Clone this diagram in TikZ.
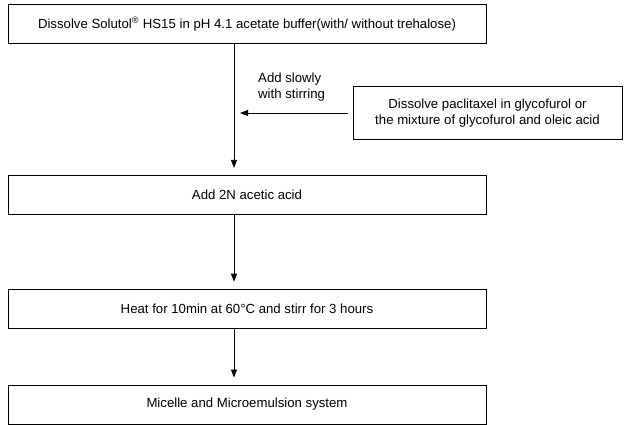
\documentclass[tikz,border=0pt]{standalone}
\usepackage{fontspec}
\setmainfont{Liberation Sans}
\usetikzlibrary{arrows.meta,positioning,calc}

\begin{document}
\begin{tikzpicture}[
  x=1pt,y=1pt,
  stepbox/.style={
    draw,
    line width=0.8pt,
    minimum width=478pt,
    minimum height=39pt,
    align=center,
    inner sep=0pt,
    font=\fontsize{13.2}{15}\selectfont
  },
  sidebox/.style={
    draw,
    line width=0.8pt,
    minimum width=269pt,
    minimum height=53pt,
    align=center,
    inner sep=0pt,
    font=\fontsize{13.2}{15.5}\selectfont
  },
  arrow/.style={-{Triangle[length=8pt,width=6pt]},line width=0.8pt}
]
  \useasboundingbox (0,0) rectangle (624,-425);
  \node[stepbox] (solutol) at (247,-24) {Dissolve Solutol\textsuperscript{\textregistered} HS15 in pH 4.1 acetate buffer(with/ without trehalose)};
  \node[stepbox,below=131pt of solutol] (acid) {Add 2N acetic acid};
  \node[stepbox,below=74pt of acid] (heat) {Heat for 10min at 60\textdegree C and stirr for 3 hours};
  \node[stepbox,below=56pt of heat] (micelle) {Micelle and Microemulsion system};
  \node[sidebox] (paclitaxel) at (487.5,-113) {Dissolve paclitaxel in glycofurol or\\the mixture of glycofurol and oleic acid};
  \node[anchor=west,align=left,inner sep=0pt,font=\fontsize{13.2}{16.5}\selectfont] (slowly) at (258,-87) {Add slowly\\with stirring};
  \coordinate (trunk) at (234,0);
  \draw[arrow,shorten >=7pt] (solutol.south -| trunk) -- (acid.north -| trunk);
  \draw[arrow,shorten >=7pt] (acid.south -| trunk) -- (heat.north -| trunk);
  \draw[arrow,shorten >=7pt] (heat.south -| trunk) -- (micelle.north -| trunk);
  \draw[arrow,shorten <=5pt,shorten >=6pt] (paclitaxel.west) -- (paclitaxel.west -| trunk);
\end{tikzpicture}
\end{document}
